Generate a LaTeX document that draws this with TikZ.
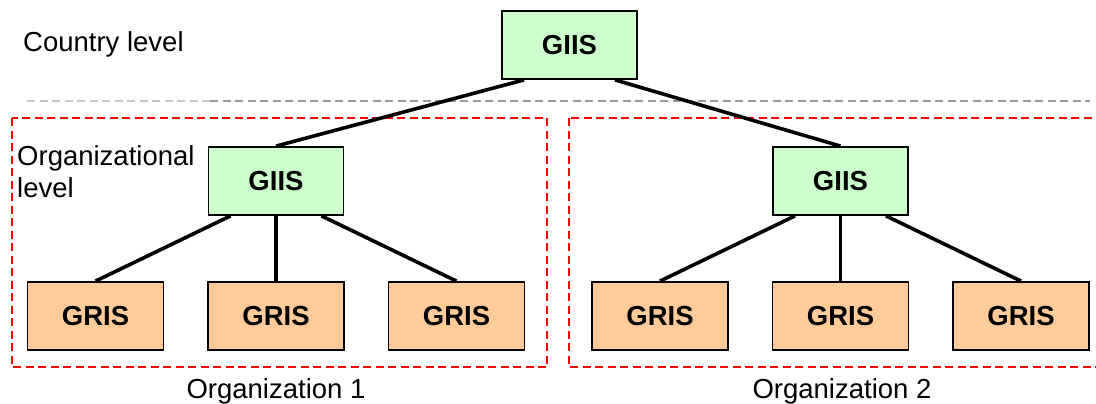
\documentclass[tikz,border=0pt]{standalone}
\usepackage{fontspec}
\setmainfont{Liberation Sans}
\usetikzlibrary{calc}
\definecolor{giisgreen}{HTML}{CCFFCC}
\definecolor{grisorange}{HTML}{FFCC99}
\definecolor{orgred}{HTML}{FF0000}
\definecolor{levgray}{HTML}{999999}
\definecolor{levlight}{HTML}{C8C8C8}
\tikzset{
  giis/.style={draw=black, line width=1.8pt, fill=giisgreen, minimum width=135pt, minimum height=68pt, inner sep=0pt, font=\fontsize{27.5}{30}\selectfont\bfseries},
  gris/.style={draw=black, line width=1.8pt, fill=grisorange, minimum width=136pt, minimum height=68pt, inner sep=0pt, font=\fontsize{27.5}{30}\selectfont\bfseries},
  link/.style={draw=black, line width=3.6pt},
  orgbox/.style={draw=orgred, line width=1.8pt, dash pattern=on 8pt off 4.5pt},
  levline/.style={line width=1.8pt, dash pattern=on 8pt off 4.5pt},
  lbl/.style={inner sep=0pt, font=\fontsize{27.5}{32}\selectfont, align=left},
}
\begin{document}
\begin{tikzpicture}[x=1pt, y=-1pt]
\useasboundingbox (0,0) rectangle (1096,404);
\clip (0,0) rectangle (1096,404);
% level separator
\draw[levline, draw=levlight] (27,101) -- (210,101);
\draw[levline, draw=levgray] (210,101) -- (1090,101);
% organization boxes
\draw[orgbox] (12,118) rectangle (547,367);
\draw[orgbox] (569,118) rectangle (1100,367);
% nodes
\node[giis] (g0) at (569.5,45) {GIIS};
\node[giis] (g1) at (276,181) {GIIS};
\node[giis] (g2) at (840.5,181) {GIIS};
\node[gris] (r11) at (95.5,316) {GRIS};
\node[gris] (r12) at (276,316) {GRIS};
\node[gris] (r13) at (456.5,316) {GRIS};
\node[gris] (r21) at (660,316) {GRIS};
\node[gris] (r22) at (840.5,316) {GRIS};
\node[gris] (r23) at (1021,316) {GRIS};
% connectors
\draw[link] ($(g0.south)+(-45.5,0)$) -- (g1.north);
\draw[link] ($(g0.south)+(45.5,0)$) -- (g2.north);
\draw[link] ($(g1.south)+(-45.5,0)$) -- (r11.north);
\draw[link] (g1.south) -- (r12.north);
\draw[link] ($(g1.south)+(45.5,0)$) -- (r13.north);
\draw[link] ($(g2.south)+(-45.5,0)$) -- (r21.north);
\draw[link] (g2.south) -- (r22.north);
\draw[link] ($(g2.south)+(45.5,0)$) -- (r23.north);
% labels
\node[lbl, anchor=base west] (lc) at (23,52) {Country level};
\node[lbl, anchor=base west] (lo) at (17,197) {Organizational\\level};
\node[lbl, anchor=base] (o1) at (276,398) {Organization 1};
\node[lbl, anchor=base] (o2) at (842,398) {Organization 2};
\end{tikzpicture}
\end{document}
